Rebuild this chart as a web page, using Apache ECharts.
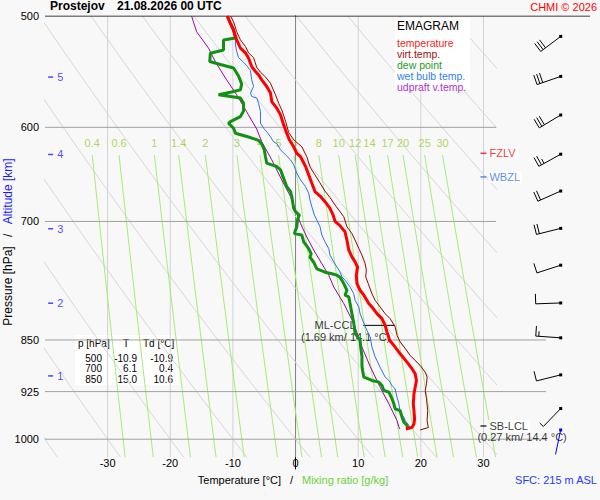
<!DOCTYPE html>
<html>
<head>
<meta charset="utf-8">
<script src="https://cdn.jsdelivr.net/npm/echarts@6/dist/echarts.min.js"></script>
<style>
html, body { margin: 0; padding: 0; background: #f8f8f8; }
#chart { width: 600px; height: 500px; }
</style>
</head>
<body>
<div id="chart"></div>
<script>
var FONT = '"Liberation Sans", Arial, sans-serif';

/* sounding profiles, [T degC, p hPa] */
var temperature = [[-10.9,500],[-10.4,506],[-9.9,511.6],[-9.4,520],[-8.8,527],[-8.0,531.1],[-7.5,535.8],[-7.0,543.2],[-6.4,547.6],[-5.9,550.6],[-5.4,555.1],[-4.6,561.2],[-4.0,567.3],[-3.8,575.2],[-3.0,581.5],[-2.4,587.9],[-1.9,597.6],[-1.4,605.9],[-1.0,612.4],[-0.3,619.4],[0.2,626.1],[0.8,629.6],[1.6,639.8],[2.1,648.6],[2.6,657.6],[3.1,666.6],[4.0,672.1],[4.7,677.7],[5.5,685.1],[6.0,692.7],[6.3,700],[7.0,704.2],[7.9,712],[8.2,721.7],[8.5,733.7],[9.0,741.8],[9.5,747.9],[9.9,754.1],[9.7,764.4],[9.8,775],[10.3,783.5],[10.9,789.9],[11.7,800.8],[12.2,805.2],[13.0,814.1],[13.8,820.8],[14.3,829.9],[14.6,839.1],[15.0,850],[15.9,860],[16.7,869.5],[17.8,881.4],[18.6,891.1],[19.1,898.4],[19.3,908.3],[19.1,918.3],[18.9,928.4],[18.8,943.8],[18.9,954.2],[19.0,967.3],[18.9,975.3],[18.6,980.8],[17.6,983.3]];

var virtTemp = [[-10.4,500],[-9.9,504.7],[-9.4,513],[-8.8,520],[-8.0,525.6],[-7.5,531.1],[-6.7,535.3],[-6.2,543.9],[-5.6,548.2],[-4.8,552.5],[-4.0,558.3],[-3.2,568.9],[-2.7,576.8],[-2.2,583.1],[-1.6,594],[-1.1,605],[-0.3,612.4],[1.0,619.4],[1.8,629.7],[2.3,640.1],[3.1,648.6],[3.9,657.2],[4.7,666.1],[5.5,673.1],[6.3,681.4],[6.9,687],[7.7,694.6],[8.2,706],[9.0,714.1],[9.5,721.7],[10.1,731.7],[10.6,739.7],[11.1,749.8],[11.3,758.2],[11.2,766.5],[11.6,775],[12.2,788.1],[12.7,796.5],[13.5,805.2],[14.3,814.1],[15.1,820.8],[15.9,831.9],[16.2,843.6],[16.7,852.6],[17.5,861.7],[18.3,871.8],[19.1,879],[19.9,886.2],[20.7,896],[21.0,903.3],[20.9,913.3],[20.7,923.3],[20.9,935.9],[21.1,954.2],[21.0,969.9],[21.2,981],[19.9,985]];

var dewPoint = [[-10.9,500],[-10.4,506],[-9.9,511.6],[-9.6,518.3],[-11.5,520],[-11.5,528.6],[-13.6,531.4],[-13.7,538.7],[-12.0,541.3],[-9.9,544.5],[-9.1,551.7],[-8.6,558.8],[-8.8,564.3],[-10.4,566.5],[-12.3,568.9],[-10.4,570.4],[-8.8,571.9],[-8.3,576.8],[-8.3,584.2],[-8.8,589.5],[-10.4,594.4],[-10.7,596],[-9.9,600.9],[-9.6,605.9],[-7.5,609.6],[-5.9,613],[-5.3,617.5],[-5.0,622.5],[-4.8,629.6],[-4.6,636.3],[-3.8,638],[-3.0,639.8],[-2.4,643.3],[-1.9,652.2],[-1.4,661.3],[-0.8,666.6],[-0.6,672.1],[-0.3,685.1],[0.0,688.9],[0.6,692.7],[0.3,698.4],[0.2,706],[-0.2,714.1],[1.0,715.8],[1.3,723.8],[2.1,731.8],[2.5,738.1],[2.3,742.2],[2.9,748.4],[3.4,756.5],[4.7,760.7],[5.8,762.7],[6.6,764.4],[7.1,767.1],[7.7,775],[8.2,783.5],[7.9,789.9],[8.5,792.1],[8.7,800.8],[9.0,814.1],[9.3,827.2],[9.5,840.8],[10.3,850.6],[10.4,859.9],[10.6,873.3],[10.6,886.2],[10.7,893.5],[10.9,903.3],[12.2,908.3],[13.3,910.8],[13.8,915.8],[14.1,923.3],[14.9,925.9],[15.4,935.9],[15.7,943.8],[15.9,951.6],[16.7,954.2],[17.0,964.7],[17.3,972.7],[17.8,977.9],[17.9,981.6]];

var wetBulb = [[-10.9,500],[-10.4,506],[-9.9,511.6],[-9.6,518.3],[-9.6,524.3],[-9.4,529.9],[-9.1,535.3],[-8.3,539.4],[-7.8,542.3],[-7.2,546.6],[-7.0,555.1],[-6.7,561.2],[-7.2,567.3],[-7.0,570.4],[-6.2,571.9],[-5.9,576.8],[-5.6,584.8],[-5.6,591.1],[-5.6,596],[-5.1,600.9],[-4.6,604.4],[-4.0,609.4],[-3.5,614.5],[-3.0,616.1],[-2.4,622.5],[-1.6,627.7],[-0.8,632.8],[-0.3,638],[0.2,646.8],[0.8,654],[1.6,661.3],[2.1,668.4],[2.3,675.8],[2.6,683.3],[3.0,692.7],[3.4,698.4],[3.9,706],[4.2,715.8],[4.7,723.8],[5.3,731.8],[5.5,739.7],[6.1,748],[6.6,754.1],[7.1,760.4],[7.4,766.5],[7.9,770.7],[8.7,779.3],[9.3,788.1],[9.5,796.5],[10.1,805.2],[10.3,814.1],[10.9,827.2],[11.4,836.7],[11.9,845.8],[12.2,859.9],[12.7,873.8],[13.5,888.7],[14.3,903.3],[14.9,908.3],[15.4,915.8],[15.9,920.8],[16.2,933.6],[16.5,943.8],[16.7,957.1],[17.3,964.9],[17.5,969.9],[18.1,977.9],[18.2,981.6]];

var updraft = [[-16.6,500],[-15.8,513],[-13.9,527],[-12.8,539],[-11.8,548],[-11.0,555.1],[-9.4,568.9],[-7.8,585],[-6.2,601.7],[-5.4,614.4],[-3.8,632.8],[-2.2,654],[-0.8,672.1],[0.0,687],[0.8,702.6],[1.8,718.1],[2.9,733.7],[4.2,750.2],[5.3,764.4],[6.1,779.3],[7.7,800.8],[9.3,827.2],[10.6,859.9],[11.9,887.4],[13.5,918.3],[14.9,943.8],[16.2,969.9],[16.6,983.3]];

/* diagram background */
var pressureTicks = [500, 600, 700, 850, 925, 1000];
var isotherms = [-30, -20, -10, 0, 10, 20, 30];
var thetas = [-40, -30, -20, -10, 0, 10, 20, 30, 40, 50, 60, 70, 80, 90, 100];
var mixingRatios = [0.4, 0.6, 1, 1.4, 2, 3, 4, 5, 6, 8, 10, 12, 14, 17, 20, 25, 30];
var altKm = [1, 2, 3, 4, 5];
var altP = [901.5, 800.3, 708.4, 627.3, 552.6];

/* wind barbs: p hPa, direction deg, speed kt */
var windP = [517, 552, 588, 627, 666, 708, 752, 800, 847, 900, 951];
var windDir = [233, 251, 239, 241, 246, 256, 252, 268, 274, 256, 224];
var windKt = [30, 30, 30, 25, 20, 20, 10, 10, 15, 10, 5];
var sfcWind = [985, 192, 2];

/* levels and table */
var fzlvP = 626.1, wbzlP = 650.8, sbLclP = 978.6, mlCclP = 829.9;
var mlCclSpan = [10.8, 15.9];
var tableP = [500, 700, 850];
var tableT = [-10.9, 6.1, 15.0];
var tableTd = [-10.9, 0.4, 10.6];

var chart = echarts.init(document.getElementById('chart'), null, { renderer: 'svg' });

function dryT(th, p) { return (th + 273.15) * Math.pow(p / 1000, 0.2857) - 273.15; }
function mixT(w, p) {
    var l = Math.log(w * p / (622 + w) / 6.112);
    return 243.5 * l / (17.67 - l);
}

function bgLine(data, color, idx) {
    return {
        type: 'line', data: data, xAxisIndex: idx || 0, yAxisIndex: idx || 0,
        showSymbol: false, silent: true, z: 1,
        lineStyle: { color: color, width: 1 }
    };
}

function profile(name, data, color, width) {
    return {
        name: name, type: 'line', data: data, showSymbol: false, silent: true, z: 5,
        lineStyle: { color: color, width: width }
    };
}

var series = [];
var samp = [];
for (var p = 500; p <= 1030; p += 10) samp.push(p);

isotherms.forEach(function (t) {
    series.push(bgLine([[t, 500], [t, 1030]], t === 0 ? '#8c8c8c' : '#d2d2d2'));
});
thetas.forEach(function (th) {
    series.push(bgLine(samp.map(function (p) { return [dryT(th, p), p]; }), '#d6d6d6'));
});
mixingRatios.forEach(function (w) {
    var ps = [628].concat(samp.filter(function (p) { return p > 628; }));
    series.push(bgLine(ps.map(function (p) { return [mixT(w, p), p]; }), '#a3ec74'));
});
pressureTicks.forEach(function (p) {
    series.push(bgLine([[-40, p], [32, p]], p === 500 ? '#000' : '#a0a0a0'));
});
// isobars running on into the wind column
series.push(bgLine([[0, 500], [94, 500]], '#000', 1));
[850, 925, 1000].forEach(function (p) {
    series.push(bgLine([[0, p], [50, p]], '#a0a0a0', 1));
});

// mixing ratio labels
series.push({
    type: 'scatter', silent: true, symbolSize: 0, z: 2,
    data: mixingRatios.map(function (w) { return [mixT(w, 628), 628, w]; }),
    label: {
        show: true, position: 'top', distance: 7, color: '#9acd32',
        fontSize: 11, fontFamily: FONT,
        formatter: function (p) { return String(p.value[2]); }
    }
});

// altitude marks
series.push({
    type: 'scatter', silent: true, symbol: 'rect', symbolSize: [5, 1.5], z: 3,
    itemStyle: { color: '#1a1aff' },
    data: altKm.map(function (k, i) { return [-39.1, altP[i], k]; }),
    label: {
        show: true, position: 'right', distance: 4, color: '#1a1aff',
        fontSize: 11, fontFamily: FONT,
        formatter: function (p) { return String(p.value[2]); }
    }
});

// ML-CCL
series.push({
    type: 'line', silent: true, showSymbol: false, z: 3,
    data: [[mlCclSpan[0], mlCclP], [mlCclSpan[1], mlCclP]],
    lineStyle: { color: '#000', width: 1 }
});
series.push({
    type: 'scatter', silent: true, symbolSize: 0, z: 3,
    data: [
        { value: [6.3, mlCclP], name: 'ML-CCL' },
        { value: [8.0, 845.4], name: '(1.69 km/ 14.1 \u00b0C)' }
    ],
    label: {
        show: true, position: 'inside', color: '#000', fontSize: 11, fontFamily: FONT,
        formatter: function (p) { return p.name; }
    }
});

// freezing level, wet bulb zero, SB-LCL
series.push({
    type: 'scatter', silent: true, symbol: 'rect', symbolSize: [6, 1.5], z: 6,
    data: [
        { value: [30, fzlvP], name: 'FZLV', itemStyle: { color: '#ff0000' }, label: { color: '#ff0000' } },
        { value: [30, wbzlP], name: 'WBZL', itemStyle: { color: '#2f6fef' }, label: { color: '#2f6fef' } },
        { value: [30, sbLclP], name: 'SB-LCL', itemStyle: { color: '#000' }, label: { color: '#000' } }
    ],
    label: {
        show: true, position: 'right', distance: 2, fontSize: 11, fontFamily: FONT,
        backgroundColor: '#fff', padding: [1, 2, 0, 1],
        formatter: function (p) { return p.name; }
    }
});
series.push({
    type: 'scatter', silent: true, symbolSize: 0, z: 3,
    data: [{ value: [29.03, 997.2], name: '(0.27 km/ 14.4 \u00b0C)' }],
    label: {
        show: true, position: 'right', distance: 0, color: '#000', fontSize: 11, fontFamily: FONT,
        formatter: function (p) { return p.name; }
    }
});

// profiles
series.push(profile('udpraft v.temp.', updraft, '#a000a8', 1));
series.push(profile('wet bulb temp.', wetBulb, '#2f6fef', 1));
series.push(profile('dew point', dewPoint, '#119111', 3));
series.push(profile('virt.temp.', virtTemp, '#990000', 1));
series.push(profile('temperature', temperature, '#ff0000', 3));

// wind barbs
function barb(color) {
    return function (params, api) {
        var pt = api.coord([api.value(0), api.value(1)]);
        var d = api.value(2) * Math.PI / 180, spd = api.value(3);
        var ux = Math.sin(d), uy = -Math.cos(d);
        var px = -uy, py = ux;
        var tail = [pt[0] + ux * 25, pt[1] + uy * 25];
        var st = { stroke: color, lineWidth: 1 };
        var kids = [{ type: 'line', shape: { x1: pt[0], y1: pt[1], x2: tail[0], y2: tail[1] }, style: st }];
        var full = Math.floor(spd / 10), half = spd % 10 >= 5;
        for (var i = 0; i < full + (half ? 1 : 0); i++) {
            var len = i < full ? 10 : 5;
            var bx = tail[0] - ux * 3 * i, by = tail[1] - uy * 3 * i;
            kids.push({ type: 'line', shape: { x1: bx, y1: by, x2: bx + px * len, y2: by + py * len }, style: st });
        }
        kids.push({ type: 'rect', shape: { x: pt[0] - 1.5, y: pt[1] - 1.5, width: 3, height: 3 }, style: { fill: color } });
        return { type: 'group', children: kids };
    };
}
var barbX = 64.7;
series.push({
    type: 'custom', xAxisIndex: 1, yAxisIndex: 1, silent: true, z: 5,
    data: windP.map(function (p, i) { return [barbX, p, windDir[i], windKt[i]]; }),
    renderItem: barb('#000')
});
series.push({
    type: 'custom', xAxisIndex: 1, yAxisIndex: 1, silent: true, z: 5,
    data: [[barbX, sfcWind[0], sfcWind[1], sfcWind[2]]],
    renderItem: barb('#0000ff')
});

// table of standard levels
function cell(text, x, y, align) {
    return { type: 'text', style: { text: text, x: x, y: y, align: align, verticalAlign: 'middle', fontSize: 10, lineHeight: 9, fontFamily: FONT, fill: '#000' } };
}
var tableKids = [
    { type: 'rect', shape: { x: 75, y: 335, width: 105, height: 50 }, style: { fill: '#fff' } },
    cell('p [hPa]', 78, 343, 'left'),
    cell('T', 126, 343, 'center'),
    cell('Td [\u00b0C]', 143, 343, 'left')
];
tableP.forEach(function (p, i) {
    var y = 358 + i * 10.5;
    tableKids.push(cell(String(p), 102, y, 'right'));
    tableKids.push(cell(tableT[i].toFixed(1), 137, y, 'right'));
    tableKids.push(cell(tableTd[i].toFixed(1), 173, y, 'right'));
});

var option = {
    backgroundColor: '#f8f8f8',
    animation: false,
    title: [
        { text: 'Prostejov', left: 50, top: 0, padding: 0, textStyle: { fontSize: 12, fontWeight: 'bold', color: '#000', fontFamily: FONT } },
        { text: '21.08.2026 00 UTC', left: 117, top: 0, padding: 0, textStyle: { fontSize: 12, fontWeight: 'bold', color: '#000', fontFamily: FONT } },
        { text: 'CHMI \u00a9 2026', right: 3, top: 1, padding: 0, textStyle: { fontSize: 11, fontWeight: 'normal', color: '#ff0000', fontFamily: FONT } }
    ],
    legend: {
        left: 392, top: 37, orient: 'vertical', icon: 'none', itemWidth: 0, itemHeight: 0, itemGap: 0,
        padding: 0, selectedMode: false,
        textStyle: { fontSize: 10.5, fontFamily: FONT, lineHeight: 10 },
        data: [
            { name: 'temperature', textStyle: { color: '#ff1a1a' } },
            { name: 'virt.temp.', textStyle: { color: '#a01010' } },
            { name: 'dew point', textStyle: { color: '#1e9a1e' } },
            { name: 'wet bulb temp.', textStyle: { color: '#3080f0' } },
            { name: 'udpraft v.temp.', textStyle: { color: '#b030d0' } }
        ]
    },
    grid: [
        { left: 45, top: 16, width: 451, height: 453, outerBoundsMode: 'none', containLabel: false },
        { left: 496, top: 16, width: 94, height: 453, outerBoundsMode: 'none', containLabel: false }
    ],
    xAxis: [{
        type: 'value', gridIndex: 0, min: -40, max: 32, interval: 10,
        axisLine: { show: false }, axisTick: { show: false }, splitLine: { show: false },
        axisLabel: {
            inside: true, margin: 1, fontSize: 11, color: '#000', fontFamily: FONT,
            formatter: function (v) { return (v % 10 === 0 && v > -40) ? String(v) : ''; }
        },
        name: '{k|Temperature [\u00b0C]}{s|/}{g|Mixing ratio [g/kg]}',
        nameLocation: 'middle', nameGap: 5,
        nameTextStyle: {
            fontSize: 11, fontFamily: FONT, padding: [0, 0, 0, 45],
            rich: {
                k: { color: '#000', fontSize: 11, fontFamily: FONT },
                s: { color: '#000', fontSize: 11, fontFamily: FONT, width: 21, align: 'center' },
                g: { color: '#6ad23a', fontSize: 11, fontFamily: FONT }
            }
        }
    }, {
        type: 'value', gridIndex: 1, min: 0, max: 94, show: false
    }],
    yAxis: [{
        type: 'log', gridIndex: 0, min: 500, max: 1050, inverse: true,
        axisLine: { show: true, lineStyle: { color: '#000', width: 1 } },
        axisTick: { show: false }, splitLine: { show: false }, minorTick: { show: false },
        axisLabel: {
            customValues: pressureTicks, fontSize: 11, color: '#000', fontFamily: FONT, margin: 6,
            formatter: function (v) { return String(Math.round(v)); }
        }
    }, {
        type: 'log', gridIndex: 1, min: 500, max: 1050, inverse: true, show: false
    }],
    graphic: [
        { type: 'rect', z: 3, shape: { x: 395, y: 18, width: 75, height: 72 }, style: { fill: '#fff' } },
        { type: 'text', z: 4, style: { text: 'EMAGRAM', x: 397, y: 26, verticalAlign: 'middle', fontSize: 12, fontFamily: FONT, fill: '#000' } },
        { type: 'group', z: 3, children: tableKids },
        { type: 'text', z: 4, style: { text: 'SFC: 215 m ASL', x: 597, y: 480, align: 'right', verticalAlign: 'middle', fontSize: 11, fontFamily: FONT, fill: '#1a3cff' } },
        {
            type: 'text', z: 4, x: 8, y: 242, rotation: Math.PI / 2,
            style: {
                text: '{a|Pressure [hPa]}{s|/}{b|Altitude [km]}',
                align: 'center', verticalAlign: 'middle', fontSize: 12, fontFamily: FONT,
                rich: {
                    a: { fill: '#000', fontSize: 12, fontFamily: FONT },
                    s: { fill: '#000', fontSize: 12, fontFamily: FONT, width: 22, align: 'center' },
                    b: { fill: '#1a1aff', fontSize: 12, fontFamily: FONT }
                }
            }
        }
    ],
    series: series
};

chart.setOption(option);
</script>
</body>
</html>
